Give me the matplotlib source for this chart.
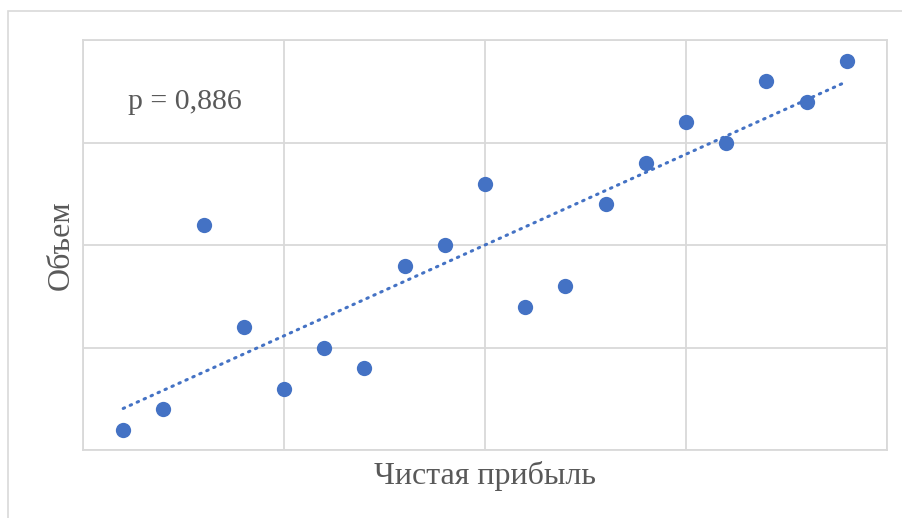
import numpy as np
import matplotlib
matplotlib.use('Agg')
import matplotlib.pyplot as plt
from matplotlib.patches import Rectangle

# net profit rank vs volume rank
profit = [1, 2, 3, 4, 5, 6, 7, 8, 9, 10, 11, 12, 13, 14, 15, 16, 17, 18, 19]
volume = [1, 2, 11, 6, 3, 5, 4, 9, 10, 13, 7, 8, 12, 14, 16, 15, 18, 17, 19]
rho_text = "p = 0,886"

BLUE = '#4472C4'
GRID = '#d9d9d9'
TEXT = '#595959'
plt.rcParams['font.family'] = ['Liberation Serif', 'DejaVu Serif']

fig = plt.figure(figsize=(9.03, 5.18), dpi=100)
fig.patches.append(Rectangle((8 / 903, -0.1), 1.1, 1 - 11 / 518 + 0.1,
                             transform=fig.transFigure, fill=False,
                             ec=GRID, lw=1.2))
ax = fig.add_axes([83 / 903, 1 - 450 / 518, 804 / 903, 410 / 518])

x = np.array(profit, dtype=float)
y = np.array(volume, dtype=float)
k, b = np.polyfit(x, y, 1)
xs = np.array([x.min(), x.max()])
ax.plot(xs, k * xs + b, color=BLUE, lw=2.2, ls=(0, (0.5, 2.0)),
        dash_capstyle='round', zorder=3)
ax.plot(x, y, 'o', color=BLUE, ms=11, mec='none', zorder=4)

ax.set_xlim(0, 20)
ax.set_ylim(0, 20)
ax.set_xticks([0, 5, 10, 15, 20])
ax.set_yticks([0, 5, 10, 15, 20])
ax.tick_params(length=0, labelbottom=False, labelleft=False)
ax.grid(True, color=GRID, lw=1.3)
ax.set_axisbelow(True)
for s in ax.spines.values():
    s.set_color(GRID)
    s.set_linewidth(1.3)

ax.text(0.056, 0.848, rho_text, transform=ax.transAxes, fontsize=21.5,
        color=TEXT, va='center', ha='left')
fig.text(485 / 903, 1 - 476 / 518, 'Чистая прибыль', fontsize=23,
         color=TEXT, ha='center', va='center')
fig.text(61 / 903, 1 - 245 / 518, 'Объем', fontsize=23, color=TEXT,
         ha='center', va='center', rotation=90)

fig.savefig('out.png', dpi=100)
